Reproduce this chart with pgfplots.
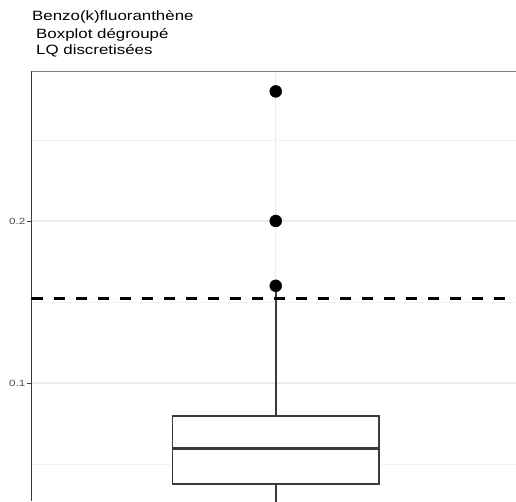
\documentclass[border=0pt]{standalone}
\usepackage{fontspec}
\setmainfont{Liberation Sans}
\newfontfamily\titlefont[FakeStretch=1.25]{Liberation Sans}
\newfontfamily\tickfont[FakeStretch=1.3]{Liberation Sans}
\usepackage{pgfplots}
\pgfplotsset{compat=1.18}
\definecolor{c333}{HTML}{3A3A3A}
\definecolor{ctick}{HTML}{4D4D4D}
\definecolor{gmaj}{HTML}{EBEBEB}
\definecolor{gmin}{HTML}{F2F2F2}
\begin{document}
\begin{tikzpicture}
\begin{axis}[
  at={(31.5pt,0pt)}, anchor=south west,
  scale only axis, width=484.5pt, height=430pt,
  xmin=0.4, xmax=1.5902, ymin=0.02716, ymax=0.29259,
  axis x line*=top, axis y line*=left,
  x axis line style={-, draw=gray, line width=0.9pt},
  y axis line style={-, draw=c333, line width=0.9pt},
  xtick={1}, xticklabels={}, x tick style={draw=none},
  ytick={0.1,0.2}, minor ytick={0.05,0.15,0.25},
  y tick style={draw=c333, line width=0.9pt},
  tick align=outside, major tick length=4.5pt, minor tick length=0pt,
  xmajorgrids, ymajorgrids, yminorgrids,
  major grid style={draw=gmaj, line width=1.1pt},
  minor grid style={draw=gmin, line width=0.6pt},
  /pgf/number format/assume math mode=true,
  yticklabel style={font=\tickfont\fontsize{9}{11}\selectfont, text=ctick, inner sep=1.5pt},
  clip=true,
]
% whiskers
\addplot[c333, line width=1.6pt] coordinates {(1,0.0797) (1,0.158)};
\addplot[c333, line width=1.6pt] coordinates {(1,0.0375) (1,0.0)};
% box
\addplot[c333, line width=1.6pt, fill=white] coordinates {(0.7467,0.0375) (1.2533,0.0375) (1.2533,0.0797) (0.7467,0.0797)} --cycle;
% median
\addplot[c333, line width=2.6pt] coordinates {(0.7467,0.0595) (1.2533,0.0595)};
% outliers
\addplot[only marks, mark=*, mark size=6pt, black] coordinates {(1,0.16) (1,0.2) (1,0.28)};
% dashed reference line
\addplot[black, line width=3pt, dash pattern=on 11pt off 11pt] coordinates {(0.4,0.15228) (1.5902,0.15228)};
\end{axis}
\node[anchor=base west, inner sep=0pt, font=\titlefont\fontsize{13.5}{16}\selectfont] at (32pt,480.3pt) {Benzo(k)fluoranthène};
\node[anchor=base west, inner sep=0pt, font=\titlefont\fontsize{13.5}{16}\selectfont] at (36pt,462.7pt) {Boxplot dégroupé};
\node[anchor=base west, inner sep=0pt, font=\titlefont\fontsize{13.5}{16}\selectfont] at (36pt,446pt) {LQ discretisées};
\pgfresetboundingbox
\useasboundingbox (0,0) rectangle (516pt,501pt);
\end{tikzpicture}
\end{document}
